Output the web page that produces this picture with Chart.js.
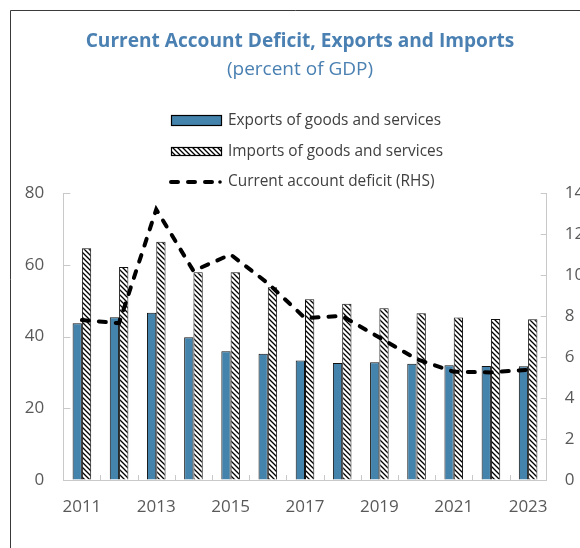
<!DOCTYPE html>
<html>
<head>
<meta charset="utf-8">
<script src="https://cdn.jsdelivr.net/npm/chart.js@4/dist/chart.umd.min.js"></script>
<style>
  html, body { margin: 0; padding: 0; background: #ffffff; overflow: hidden; }
  #wrap { position: relative; width: 580px; height: 548px; }
</style>
</head>
<body>
<div id="wrap"><canvas id="chart" width="580" height="548"></canvas></div>
<script>
// Years on the category axis
const years = ['2011','2012','2013','2014','2015','2016','2017','2018','2019','2020','2021','2022','2023'];
// Exports of goods and services, percent of GDP (left axis)
const exportsGS = [43.7, 45.4, 46.6, 39.8, 35.9, 35.2, 33.3, 32.6, 32.8, 32.4, 32.0, 31.8, 31.7];
// Imports of goods and services, percent of GDP (left axis)
const importsGS = [64.6, 59.4, 66.4, 57.9, 57.9, 53.7, 50.4, 49.1, 47.9, 46.5, 45.3, 44.9, 44.8];
// Current account deficit, percent of GDP (right axis)
const caDeficit = [7.8, 7.65, 13.2, 10.2, 11.0, 9.6, 7.9, 8.0, 6.95, 5.9, 5.28, 5.25, 5.38];

const titleText = 'Current Account Deficit, Exports and Imports';
const subtitleText = '(percent of GDP)';
const legendLabels = ['Exports of goods and services', 'Imports of goods and services', 'Current account deficit (RHS)'];

const BLUE = '#4483ab';
const TITLE_BLUE = '#4a80b2';
const AXIS_GREY = '#c9c9c9';
const TEXT_GREY = '#595959';
const FONT = '"Open Sans", "Noto Sans", sans-serif';

// Diagonal hatch fill for the imports bars
function makeHatch() {
  const s = 5;
  const c = document.createElement('canvas');
  c.width = s; c.height = s;
  const g = c.getContext('2d');
  g.fillStyle = '#ffffff';
  g.fillRect(0, 0, s, s);
  g.strokeStyle = '#000000';
  g.lineWidth = 1.3;
  g.beginPath();
  g.moveTo(-1, -1); g.lineTo(s + 1, s + 1);
  g.moveTo(-1, s - 1); g.lineTo(1, s + 1);
  g.moveTo(s - 1, -1); g.lineTo(s + 1, 1);
  g.stroke();
  return g.createPattern(c, 'repeat');
}
const hatch = makeHatch();

// Frame, title, subtitle and stacked legend
const decorations = {
  id: 'decorations',
  beforeDraw(chart) {
    const ctx = chart.ctx;
    ctx.save();
    ctx.strokeStyle = '#3a3a3a';
    ctx.lineWidth = 1;
    ctx.beginPath();
    ctx.moveTo(10.5, 700); ctx.lineTo(10.5, 10.5); ctx.lineTo(700, 10.5);
    ctx.stroke();

    ctx.fillStyle = TITLE_BLUE;
    ctx.textAlign = 'center';
    ctx.textBaseline = 'middle';
    ctx.font = 'bold 19.1px ' + FONT;
    ctx.fillText(titleText, 300, 42);
    ctx.font = '19px ' + FONT;
    ctx.fillText(subtitleText, 300, 70);
    ctx.restore();
  },
  afterDraw(chart) {
    const ctx = chart.ctx;
    const ds = chart.data.datasets;
    const x0 = 171, x1 = 222, tx = 228;
    const rows = [121, 152, 182];
    ctx.save();
    // exports swatch
    ctx.fillStyle = ds[1].backgroundColor;
    ctx.fillRect(x0, 115, x1 - x0, 11);
    ctx.strokeStyle = '#000';
    ctx.lineWidth = 1.2;
    ctx.strokeRect(x0 + 0.5, 115.5, x1 - x0 - 1, 10);
    // imports swatch
    ctx.fillStyle = ds[2].backgroundColor;
    ctx.fillRect(x0, 147, x1 - x0, 9);
    ctx.strokeRect(x0 + 0.5, 147.5, x1 - x0 - 1, 8);
    // deficit line swatch
    ctx.strokeStyle = ds[0].borderColor;
    ctx.lineWidth = 4;
    ctx.lineCap = 'round';
    ctx.setLineDash(ds[0].borderDash);
    ctx.beginPath();
    ctx.moveTo(x0, rows[2]); ctx.lineTo(x1 - 2, rows[2]);
    ctx.stroke();
    ctx.setLineDash([]);
    ctx.beginPath();
    ctx.arc(x1 - 2, rows[2], 1.8, 0, Math.PI * 2);
    ctx.fillStyle = '#000';
    ctx.fill();

    ctx.fillStyle = '#404040';
    ctx.font = '15.4px ' + FONT;
    ctx.textAlign = 'left';
    ctx.textBaseline = 'middle';
    legendLabels.forEach((t, i) => ctx.fillText(t, tx, rows[i]));
    ctx.restore();
  }
};

// Short tick marks pointing into the plot area
const innerTicks = {
  id: 'innerTicks',
  beforeDatasetsDraw(chart) {
    const ctx = chart.ctx;
    const { y, y1, x } = chart.scales;
    ctx.save();
    ctx.strokeStyle = AXIS_GREY;
    ctx.lineWidth = 1;
    ctx.beginPath();
    y.ticks.forEach((t, i) => {
      const py = Math.round(y.getPixelForTick(i)) + 0.5;
      ctx.moveTo(y.right, py); ctx.lineTo(y.right + 7, py);
    });
    y1.ticks.forEach((t, i) => {
      const py = Math.round(y1.getPixelForTick(i)) + 0.5;
      ctx.moveTo(y1.left, py); ctx.lineTo(y1.left - 6, py);
    });
    for (let i = 1; i < years.length; i++) {
      const px = Math.round((x.getPixelForValue(i - 1) + x.getPixelForValue(i)) / 2) + 0.5;
      ctx.moveTo(px, x.top); ctx.lineTo(px, x.top - 5);
    }
    ctx.stroke();
    ctx.restore();
  }
};

new Chart(document.getElementById('chart'), {
  data: {
    labels: years,
    datasets: [
      {
        type: 'line',
        label: legendLabels[2],
        data: caDeficit,
        yAxisID: 'y1',
        borderColor: '#000000',
        borderWidth: 4,
        borderDash: [7, 10],
        borderCapStyle: 'round',
        pointRadius: 0,
        tension: 0,
        fill: false,
        order: 0
      },
      {
        type: 'bar',
        label: legendLabels[0],
        data: exportsGS,
        yAxisID: 'y',
        backgroundColor: BLUE,
        borderColor: '#111111',
        borderWidth: 1,
        categoryPercentage: 0.5,
        barPercentage: 1.0,
        order: 1
      },
      {
        type: 'bar',
        label: legendLabels[1],
        data: importsGS,
        yAxisID: 'y',
        backgroundColor: hatch,
        borderColor: '#111111',
        borderWidth: 1,
        categoryPercentage: 0.5,
        barPercentage: 1.0,
        order: 2
      }
    ]
  },
  options: {
    responsive: false,
    animation: false,
    layout: { padding: { top: 193, left: 0, right: 0, bottom: 0 } },
    plugins: {
      legend: { display: false },
      title: { display: false },
      tooltip: { enabled: false }
    },
    scales: {
      x: {
        grid: { display: true, drawOnChartArea: false, drawTicks: false, color: AXIS_GREY },
        border: { display: true, color: AXIS_GREY, width: 1 },
        ticks: {
          autoSkip: false,
          maxRotation: 0,
          padding: 17,
          color: TEXT_GREY,
          font: { family: FONT, size: 17 },
          callback: (v, i) => (i % 2 === 0 ? years[i] : '')
        },
        afterFit: s => { s.height = 68; }
      },
      y: {
        position: 'left',
        min: 0, max: 80,
        grid: { display: true, drawOnChartArea: false, drawTicks: false, color: AXIS_GREY },
        border: { display: true, color: AXIS_GREY, width: 1 },
        ticks: { stepSize: 20, padding: 19, color: TEXT_GREY, font: { family: FONT, size: 17 } },
        afterFit: s => { s.width = 63.3; }
      },
      y1: {
        position: 'right',
        min: 0, max: 14,
        grid: { display: true, drawOnChartArea: false, drawTicks: false, color: AXIS_GREY },
        border: { display: true, color: AXIS_GREY, width: 1 },
        ticks: { stepSize: 2, padding: 18, color: TEXT_GREY, font: { family: FONT, size: 17 } },
        afterFit: s => { s.width = 33.3; }
      }
    }
  },
  plugins: [decorations, innerTicks]
});
</script>
</body>
</html>
